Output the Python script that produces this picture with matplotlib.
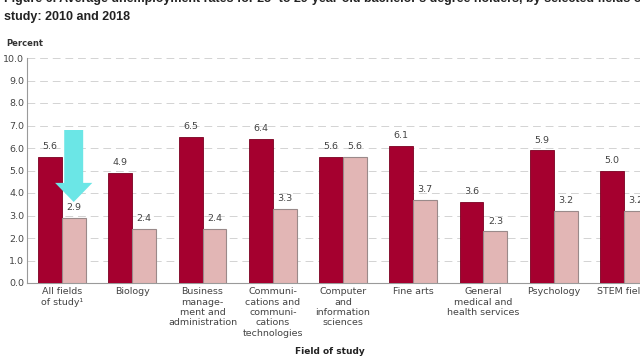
import numpy as np
import matplotlib
matplotlib.use("Agg")
import matplotlib.pyplot as plt
from matplotlib.patches import FancyArrow

fields = [
    "All fields\nof study\u00b9",
    "Biology",
    "Business\nmanage-\nment and\nadministration",
    "Communi-\ncations and\ncommuni-\ncations\ntechnologies",
    "Computer\nand\ninformation\nsciences",
    "Fine arts",
    "General\nmedical and\nhealth services",
    "Psychology",
    "STEM fields",
]
rate_2010 = [5.6, 4.9, 6.5, 6.4, 5.6, 6.1, 3.6, 5.9, 5.0]
rate_2018 = [2.9, 2.4, 2.4, 3.3, 5.6, 3.7, 2.3, 3.2, 3.2]
yticks = np.arange(0, 10.5, 1.0)

dark = "#A5002F"
light = "#E2B6B5"
text_grey = "#444444"

fig = plt.figure(figsize=(6.4, 3.6), dpi=100)
ax = fig.add_axes([27 / 640, 1 - 283 / 360, 632 / 640, 225 / 360])

x = np.arange(len(fields))
w = 0.34
ax.bar(x - w / 2, rate_2010, width=w, color=dark, edgecolor="#7a0020", linewidth=0.6, zorder=3)
ax.bar(x + w / 2, rate_2018, width=w, color=light, edgecolor="#9a8a8a", linewidth=0.8, zorder=3)

for xi, v in zip(x, rate_2010):
    ax.text(xi - w / 2, v + 0.25, f"{v:.1f}", ha="center", va="bottom", fontsize=6.8, color=text_grey)
for xi, v in zip(x, rate_2018):
    ax.text(xi + w / 2, v + 0.25, f"{v:.1f}", ha="center", va="bottom", fontsize=6.8, color=text_grey)

ax.set_xlim(-0.5, 8.5)
ax.set_ylim(0, 10)
ax.set_yticks(yticks)
ax.set_yticklabels([f"{t:.1f}" for t in yticks], fontsize=6.8, color=text_grey)
ax.yaxis.grid(True, linestyle=(0, (8, 5)), color="#d3d3d3", linewidth=0.7, zorder=0)
ax.set_axisbelow(True)
ax.tick_params(axis="y", length=0, pad=2)
ax.set_xticks(x)
ax.set_xticklabels(fields, fontsize=6.8, color=text_grey, linespacing=1.2, va="top")
ax.tick_params(axis="x", length=0, pad=3)
for side in ["top", "right"]:
    ax.spines[side].set_visible(False)
for side in ["left", "bottom"]:
    ax.spines[side].set_color("#9a9a9a")
    ax.spines[side].set_linewidth(0.8)

# cyan callout arrow over the first group
arrow = FancyArrow(0.165, 6.8, 0, -3.2, width=0.27, head_width=0.53, head_length=0.85,
                   length_includes_head=True, color="#6BE6E6", zorder=5, linewidth=0)
ax.add_patch(arrow)

fig.text(4 / 640, 1 + 1 / 360,
         "Figure 6. Average unemployment rates for 25- to 29-year-old bachelor's degree holders, by selected fields of",
         fontsize=9, fontweight="bold", family="Liberation Sans", color="#222222", va="center", ha="left")
fig.text(4 / 640, 1 - 17 / 360, "study: 2010 and 2018",
         fontsize=9, fontweight="bold", family="Liberation Sans", color="#222222", va="center", ha="left")
fig.text(6 / 640, 1 - 43 / 360, "Percent", fontsize=6, fontweight="bold", color="#333333", va="center")
fig.text(330 / 640, 1 - 352 / 360, "Field of study", fontsize=6.5, fontweight="bold", color="#222222",
         va="center", ha="center")

fig.savefig("out.png", dpi=100)
